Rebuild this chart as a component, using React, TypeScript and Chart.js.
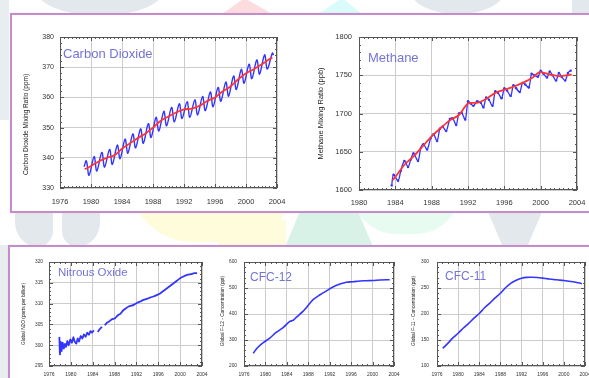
import React, { useEffect, useRef } from "react";
import { Chart, registerables } from "chart.js";
Chart.register(...registerables);

// ---------------- DATA ----------------
const co2XTicks = [1976, 1980, 1984, 1988, 1992, 1996, 2000, 2004];
const co2YTicks = [330, 340, 350, 360, 370, 380];
const co2TrendYears = [1979.2, 1980, 1981, 1982, 1983, 1984, 1985, 1986, 1987, 1988, 1989, 1990, 1991, 1992, 1993, 1994, 1995, 1996, 1997, 1998, 1999, 2000, 2001, 2002, 2003, 2003.4];
const co2TrendPpm = [336.2, 337.3, 338.8, 340.0, 340.8, 343.0, 344.7, 346.5, 348.0, 350.0, 352.3, 353.7, 355.0, 356.0, 356.3, 357.2, 358.8, 360.0, 362.0, 363.6, 366.0, 368.0, 369.3, 370.9, 372.6, 373.2];
const co2MonthlyYears = [1979.1, 1979.4, 1979.75, 1980.4, 1980.75, 1981.4, 1981.75, 1982.4, 1982.75, 1983.4, 1983.75, 1984.4, 1984.75, 1985.4, 1985.75, 1986.4, 1986.75, 1987.4, 1987.75, 1988.4, 1988.75, 1989.4, 1989.75, 1990.4, 1990.75, 1991.4, 1991.75, 1992.4, 1992.75, 1993.4, 1993.75, 1994.4, 1994.75, 1995.4, 1995.75, 1996.4, 1996.75, 1997.4, 1997.75, 1998.4, 1998.75, 1999.4, 1999.75, 2000.4, 2000.75, 2001.4, 2001.75, 2002.4, 2002.75, 2003.4, 2003.55];
const co2MonthlyPpm = [337.0, 339.0, 334.2, 340.4, 335.6, 341.8, 336.9, 342.8, 337.8, 344.2, 339.7, 346.2, 341.5, 347.9, 343.3, 349.6, 344.8, 351.3, 346.7, 353.4, 348.9, 355.4, 350.6, 356.7, 351.9, 357.9, 353.0, 358.6, 353.4, 359.2, 354.2, 360.3, 355.6, 361.8, 356.9, 363.3, 358.7, 365.1, 360.4, 367.1, 362.6, 369.3, 364.7, 371.0, 366.2, 372.4, 367.7, 374.1, 369.4, 374.7, 374.0];

const ch4XTicks = [1980, 1984, 1988, 1992, 1996, 2000, 2004];
const ch4YTicks = [1600, 1650, 1700, 1750, 1800];
const ch4TrendYears = [1983.7, 1984, 1985, 1986, 1987, 1988, 1989, 1990, 1991, 1992, 1993, 1994, 1995, 1996, 1997, 1998, 1999, 1999.7, 2000, 2001, 2002, 2003, 2003.4];
const ch4TrendPpb = [1613, 1617, 1633, 1644, 1657, 1670, 1681, 1691, 1698, 1713, 1714, 1719, 1727, 1731, 1735, 1740, 1746, 1753, 1754, 1751, 1749, 1750, 1751];
const ch4MonthlyYears = [1983.6, 1983.8, 1984.3, 1984.6, 1985.0, 1985.4, 1985.7, 1986.0, 1986.5, 1986.8, 1987.1, 1987.5, 1987.9, 1988.2, 1988.6, 1988.9, 1989.2, 1989.6, 1990.0, 1990.3, 1990.7, 1991.0, 1991.3, 1991.7, 1992.0, 1992.3, 1992.6, 1993.0, 1993.4, 1993.7, 1994.0, 1994.3, 1994.7, 1995.0, 1995.3, 1995.7, 1996.0, 1996.3, 1996.7, 1997.0, 1997.3, 1997.7, 1998.0, 1998.3, 1998.7, 1999.0, 1999.3, 1999.7, 2000.0, 2000.3, 2000.7, 2001.0, 2001.3, 2001.7, 2002.0, 2002.3, 2002.7, 2003.0, 2003.3];
const ch4MonthlyPpb = [1606, 1620, 1612, 1625, 1638, 1630, 1640, 1648, 1638, 1655, 1660, 1653, 1668, 1673, 1664, 1680, 1683, 1677, 1693, 1694, 1685, 1700, 1701, 1692, 1716, 1713, 1710, 1716, 1714, 1708, 1721, 1718, 1710, 1729, 1727, 1720, 1733, 1730, 1723, 1737, 1733, 1728, 1740, 1738, 1734, 1752, 1750, 1748, 1756, 1752, 1747, 1755, 1750, 1743, 1753, 1748, 1743, 1753, 1756];

const gasXTicks = [1976, 1980, 1984, 1988, 1992, 1996, 2000, 2004];
const n2oYTicks = [295, 300, 305, 310, 315, 320];
const n2oYears = [1977.9, 1978.0, 1978.15, 1978.3, 1978.5, 1978.7, 1978.9, 1979.1, 1979.35, 1979.6, 1979.9, 1980.2, 1980.45, 1980.7, 1981.0, 1981.25, 1981.5, 1981.8, 1982.1, 1982.4, 1982.7, 1983.0, 1983.3, 1983.6, 1983.9, 1984.2, 1984.5, 1984.9, 1985.3, 1985.7, 1985.95, 1986.2, 1986.6, 1987.0, 1987.5, 1988.1, 1988.6, 1989.1, 1989.6, 1990.1, 1990.6, 1991.1, 1991.5, 1992.0, 1992.7, 1993.3, 1994.0, 1994.6, 1995.1, 1995.8, 1996.4, 1997.0, 1997.6, 1998.2, 1998.8, 1999.4, 2000.0, 2000.6, 2001.3, 2002.0, 2002.6, 2003.1];
const n2oPpb = [302.0, 297.8, 300.8, 298.6, 300.6, 299.2, 300.3, 299.6, 301.0, 300.0, 301.4, 300.6, 301.9, 300.9, 300.4, 301.6, 300.9, 302.2, 301.6, 302.6, 302.0, 303.0, 302.5, 303.4, 303.0, 303.6, null, 303.2, 303.9, 304.4, null, 304.8, 305.4, 305.7, 306.2, 306.5, 307.2, 307.6, 308.4, 308.9, 309.3, 309.5, 309.7, 310.1, 310.5, 310.9, 311.2, 311.5, 311.7, 312.1, 312.5, 313.1, 313.7, 314.3, 314.9, 315.5, 316.1, 316.5, 316.9, 317.1, 317.3, 317.3];

const cfc12YTicks = [200, 300, 400, 500, 600];
const cfc12Years = [1977.7, 1978.6, 1979.6, 1980.8, 1982.0, 1983.3, 1984.5, 1985.2, 1985.8, 1987.0, 1987.7, 1988.9, 1990.2, 1991.4, 1992.6, 1993.9, 1995.1, 1996.4, 1997.6, 1998.9, 2000.1, 2001.4, 2003.2];
const cfc12Ppt = [248.9, 272, 290, 307, 329, 348, 371, 376, 388, 410, 426, 455, 474, 489, 504, 515, 522, 524, 527, 528, 529, 531, 532];

const cfc11YTicks = [100, 150, 200, 250, 300];
const cfc11Years = [1977.1, 1978, 1979, 1980, 1981, 1982, 1983, 1984, 1985, 1986, 1987, 1988, 1989, 1990, 1991, 1992, 1993, 1994, 1995, 1996, 1997, 1998, 1999, 2000, 2001, 2002, 2003, 2003.4];
const cfc11Ppt = [134, 143, 154, 163, 173, 182, 192, 201, 212, 221, 231, 240, 251, 259.5, 265, 268.8, 270.5, 270.6, 270.2, 269, 267.6, 266.3, 265.4, 264.4, 262.9, 261.4, 259.6, 258];

// ---------------- STYLE ----------------
const FONT = "'Liberation Sans', Arial, Helvetica, sans-serif";
const BLUE = "#3434ff";
const RED = "#ff3434";
const TITLE_BLUE = "#7474d6";
const GRID = "#cccccc";
const FRAME = "#555555";

const pts = (xs: number[], ys: (number | null)[]) => xs.map((x, i) => ({ x, y: ys[i] }));

const decorPlugin = {
  id: "decor",
  afterDraw(chart: any, _args: any, o: any) {
    const { ctx, chartArea: a, scales } = chart;
    const xs = scales.x, ys = scales.y;
    ctx.save();
    ctx.strokeStyle = FRAME;
    ctx.lineWidth = 1;
    const seg = (x1: number, y1: number, x2: number, y2: number) => {
      ctx.beginPath(); ctx.moveTo(x1, y1); ctx.lineTo(x2, y2); ctx.stroke();
    };
    for (let v = xs.min; v <= xs.max + 1e-6; v += o.xMinor) {
      const px = Math.round(xs.getPixelForValue(v)) + 0.5;
      const major = Math.abs(((v - xs.min) / o.xMajor) - Math.round((v - xs.min) / o.xMajor)) < 1e-6;
      const len = major ? 4 : 2;
      seg(px, a.bottom, px, a.bottom - len);
      seg(px, a.top, px, a.top + len);
    }
    for (let v = ys.min; v <= ys.max + 1e-6; v += o.yMinor) {
      const py = Math.round(ys.getPixelForValue(v)) + 0.5;
      const major = Math.abs(((v - ys.min) / o.yMajor) - Math.round((v - ys.min) / o.yMajor)) < 1e-6;
      const len = major ? 4 : 2;
      seg(a.left, py, a.left + len, py);
      seg(a.right, py, a.right - len, py);
    }
    ctx.strokeRect(Math.round(a.left) + 0.5, Math.round(a.top) + 0.5, Math.round(a.right - a.left) - 1, Math.round(a.bottom - a.top) - 1);
    ctx.fillStyle = TITLE_BLUE;
    ctx.font = `${o.titleSize}px ${FONT}`;
    ctx.textAlign = "left";
    ctx.textBaseline = "middle";
    ctx.fillText(o.title, a.left + o.titleDx, a.top + o.titleDy);
    ctx.fillStyle = "#222";
    ctx.font = `${o.yTitleSize}px ${FONT}`;
    ctx.translate(o.yTitleX, (a.top + a.bottom) / 2 + o.yTitleDy);
    ctx.rotate(-Math.PI / 2);
    ctx.textAlign = "center";
    ctx.fillText(o.yTitle, 0, 0);
    ctx.restore();
  },
};

type Spec = {
  left: number; top: number; w: number; h: number;
  area: { l: number; t: number; r: number; b: number };
  xMin: number; xMax: number; xTicks: number[]; xMinor: number;
  yMin: number; yMax: number; yTicks: number[]; yMinor: number;
  xFont: number; yFont: number; xPad: number; yPad: number;
  datasets: any[];
  decor: any;
};

function buildConfig(s: Spec): any {
  return {
    type: "line",
    data: { datasets: s.datasets },
    options: {
      animation: false,
      responsive: false,
      devicePixelRatio: 1,
      layout: { padding: { top: s.area.t, right: s.w - s.area.r, left: 0, bottom: 0 } },
      elements: { point: { radius: 0 } },
      plugins: {
        legend: { display: false },
        tooltip: { enabled: false },
        decor: { ...s.decor, xMinor: s.xMinor, yMinor: s.yMinor, xMajor: s.xTicks[1] - s.xTicks[0], yMajor: s.yTicks[1] - s.yTicks[0] },
      },
      scales: {
        x: {
          type: "linear",
          min: s.xMin,
          max: s.xMax,
          afterBuildTicks: (sc: any) => { sc.ticks = s.xTicks.map((v) => ({ value: v })); },
          afterFit: (sc: any) => { sc.height = s.h - s.area.b; sc.paddingLeft = 0; sc.paddingRight = 0; },
          grid: { color: GRID, lineWidth: 1, drawTicks: false },
          border: { display: false },
          ticks: {
            autoSkip: false, maxRotation: 0, minRotation: 0,
            padding: s.xPad, color: "#333",
            font: { family: FONT, size: s.xFont },
            callback: (v: any) => String(v),
          },
        },
        y: {
          type: "linear",
          min: s.yMin,
          max: s.yMax,
          afterBuildTicks: (sc: any) => { sc.ticks = s.yTicks.map((v) => ({ value: v })); },
          afterFit: (sc: any) => { sc.width = s.area.l; sc.paddingTop = 0; sc.paddingBottom = 0; },
          grid: { color: GRID, lineWidth: 1, drawTicks: false },
          border: { display: false },
          ticks: {
            padding: s.yPad, color: "#333",
            font: { family: FONT, size: s.yFont },
            callback: (v: any) => String(v),
          },
        },
      },
    },
    plugins: [decorPlugin],
  };
}

const specs: Spec[] = [
  {
    left: 14, top: 25, w: 280, h: 187,
    area: { l: 46, t: 12, r: 263, b: 163 },
    xMin: 1976, xMax: 2004, xTicks: co2XTicks, xMinor: 0.5,
    yMin: 330, yMax: 380, yTicks: co2YTicks, yMinor: 2,
    xFont: 7.5, yFont: 7, xPad: 9, yPad: 6,
    datasets: [
      { data: pts(co2TrendYears, co2TrendPpm), borderColor: RED, borderWidth: 1.8, tension: 0.3 },
      { data: pts(co2MonthlyYears, co2MonthlyPpm), borderColor: BLUE, borderWidth: 1.4, tension: 0.35 },
    ],
    decor: { title: "Carbon Dioxide", titleSize: 13, titleDx: 3, titleDy: 17, yTitle: "Carbon Dioxide Mixing Ratio (ppm)", yTitleSize: 6.5, yTitleX: 12, yTitleDy: 12 },
  },
  {
    left: 300, top: 25, w: 289, h: 187,
    area: { l: 59, t: 12, r: 277, b: 165 },
    xMin: 1980, xMax: 2004, xTicks: ch4XTicks, xMinor: 0.5,
    yMin: 1600, yMax: 1800, yTicks: ch4YTicks, yMinor: 10,
    xFont: 7.5, yFont: 7.5, xPad: 8, yPad: 7,
    datasets: [
      { data: pts(ch4TrendYears, ch4TrendPpb), borderColor: RED, borderWidth: 1.8, tension: 0.3 },
      { data: pts(ch4MonthlyYears, ch4MonthlyPpb), borderColor: BLUE, borderWidth: 1.3, tension: 0.3, pointRadius: 1.2, pointBackgroundColor: BLUE, pointBorderWidth: 0 },
    ],
    decor: { title: "Methane", titleSize: 13, titleDx: 9, titleDy: 21, yTitle: "Methane Mixing Ratio (ppb)", yTitleSize: 7.5, yTitleX: 21, yTitleDy: 0 },
  },
  {
    left: 12, top: 250, w: 198, h: 128,
    area: { l: 37, t: 12, r: 190, b: 116 },
    xMin: 1976, xMax: 2004, xTicks: gasXTicks, xMinor: 1,
    yMin: 295, yMax: 320, yTicks: n2oYTicks, yMinor: 1,
    xFont: 5, yFont: 4.8, xPad: 5.5, yPad: 6,
    datasets: [
      { data: pts(n2oYears, n2oPpb), borderColor: BLUE, borderWidth: 1.8, tension: 0.2 },
    ],
    decor: { title: "Nitrous Oxide", titleSize: 11.5, titleDx: 9, titleDy: 11, yTitle: "Global N2O (parts per billion)", yTitleSize: 4.8, yTitleX: 12, yTitleDy: 0 },
  },
  {
    left: 212, top: 250, w: 190, h: 128,
    area: { l: 32, t: 12, r: 182, b: 116 },
    xMin: 1976, xMax: 2004, xTicks: gasXTicks, xMinor: 1,
    yMin: 200, yMax: 600, yTicks: cfc12YTicks, yMinor: 20,
    xFont: 5, yFont: 4.8, xPad: 5.5, yPad: 7,
    datasets: [
      { data: pts(cfc12Years, cfc12Ppt), borderColor: BLUE, borderWidth: 1.6, tension: 0.3 },
    ],
    decor: { title: "CFC-12", titleSize: 12, titleDx: 6, titleDy: 16, yTitle: "Global F-12 - Concentration (ppt)", yTitleSize: 4.8, yTitleX: 11, yTitleDy: -3 },
  },
  {
    left: 404, top: 250, w: 185, h: 128,
    area: { l: 33, t: 12, r: 181, b: 116 },
    xMin: 1976, xMax: 2004, xTicks: gasXTicks, xMinor: 1,
    yMin: 100, yMax: 300, yTicks: cfc11YTicks, yMinor: 10,
    xFont: 5, yFont: 4.8, xPad: 5.5, yPad: 8,
    datasets: [
      { data: pts(cfc11Years, cfc11Ppt), borderColor: BLUE, borderWidth: 1.6, tension: 0.3 },
    ],
    decor: { title: "CFC-11", titleSize: 12, titleDx: 8, titleDy: 15, yTitle: "Global F-11 - Concentration (ppt)", yTitleSize: 4.8, yTitleX: 10, yTitleDy: -3 },
  },
];

function ChartBox({ spec }: { spec: Spec }) {
  const ref = useRef<HTMLCanvasElement>(null);
  useEffect(() => {
    if (!ref.current) return;
    const c = new Chart(ref.current, buildConfig(spec));
    return () => c.destroy();
  }, [spec]);
  return (
    <canvas
      ref={ref}
      width={spec.w}
      height={spec.h}
      style={{ position: "absolute", left: spec.left, top: spec.top, width: spec.w, height: spec.h }}
    />
  );
}

const shape = (s: React.CSSProperties): React.CSSProperties => ({ position: "absolute", ...s });
const GRAY_BG = "#e2e8ec";

export default function App() {
  return (
    <div style={{ position: "fixed", left: 0, top: 0, width: 589, height: 378, overflow: "hidden", background: "#fff" }}>
      <div style={shape({ left: 0, top: 0, width: 9, height: 120, background: "#e8edf0" })} />
      <div style={shape({ left: 35, top: -40, width: 130, height: 56, background: GRAY_BG, borderRadius: "50%" })} />
      <div style={shape({ left: 222, top: -2, width: 50, height: 16, background: "#fcdcdf", clipPath: "polygon(45% 0, 100% 100%, 0 100%)" })} />
      <div style={shape({ left: 318, top: -2, width: 44, height: 16, background: "#dbfbfb", clipPath: "polygon(55% 0, 100% 100%, 0 100%)" })} />
      <div style={shape({ left: 410, top: -34, width: 95, height: 48, background: GRAY_BG, borderRadius: "50%" })} />
      <div style={shape({ left: 572, top: 0, width: 20, height: 14, background: GRAY_BG })} />
      <div style={shape({ left: 15, top: 205, width: 38, height: 42, background: GRAY_BG, borderRadius: "0 0 40% 60%" })} />
      <div style={shape({ left: 62, top: 205, width: 38, height: 42, background: GRAY_BG, borderRadius: "0 0 60% 40%" })} />
      <div style={shape({ left: 130, top: 180, width: 165, height: 62, background: "#fffcdc", borderRadius: "0 0 90px 90px" })} />
      <div style={shape({ left: 218, top: 220, width: 68, height: 26, background: "#fffcdc" })} />
      <div style={shape({ left: 285, top: 205, width: 88, height: 42, background: "#d9f2e7", clipPath: "polygon(20% 0, 80% 0, 100% 100%, 0 100%)" })} />
      <div style={shape({ left: 352, top: 190, width: 108, height: 44, background: "#e7fbf0", borderRadius: "0 0 60px 60px" })} />
      <div style={shape({ left: 485, top: 205, width: 60, height: 42, background: GRAY_BG, clipPath: "polygon(0 0, 100% 0, 70% 100%, 30% 100%)" })} />
      <div style={shape({ left: 0, top: 245, width: 8, height: 133, background: "#e8edf0" })} />

      <div style={shape({ left: 10, top: 13, width: 600, height: 196, border: "2px solid #c48cc8", background: "#fff", boxShadow: "0 0 1px #e6c6e8" })} />
      <div style={shape({ left: 8, top: 245, width: 600, height: 200, border: "2px solid #c48cc8", background: "#fff", boxShadow: "0 0 1px #e6c6e8" })} />

      {specs.map((s, i) => (
        <ChartBox key={i} spec={s} />
      ))}
    </div>
  );
}
